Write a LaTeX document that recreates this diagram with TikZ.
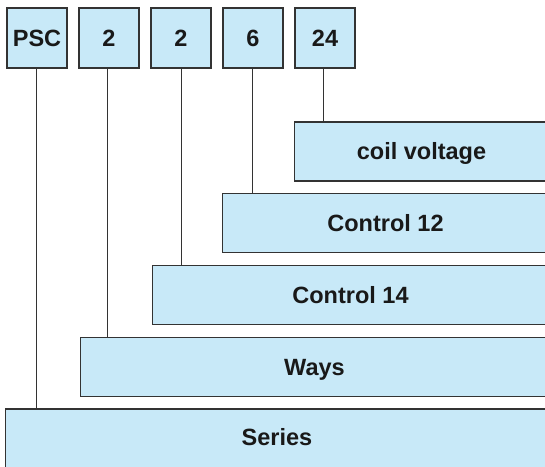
\documentclass[tikz,border=0pt]{standalone}
\usepackage{fontspec}
\setmainfont{Liberation Sans}
\definecolor{boxfill}{HTML}{C8E9F8}
\definecolor{boxline}{HTML}{333333}
\begin{document}
\begin{tikzpicture}[x=1pt,y=-1pt,
  codebox/.style={draw=boxline,line width=1.3pt,fill=boxfill,minimum width=60pt,minimum height=60pt,inner sep=0pt,text height=17pt,text depth=0pt,font=\fontsize{23.5}{28}\selectfont\bfseries,text=black!90},
  fieldbox/.style={draw=boxline,line width=1.3pt,fill=boxfill,minimum height=59pt,inner sep=0pt,text height=16.5pt,text depth=0pt,font=\fontsize{23.5}{28}\selectfont\bfseries,text=black!90},
  conn/.style={draw=boxline,line width=1pt}]
\useasboundingbox (0,0) rectangle (545,466);
\clip (0,0) rectangle (545,466);
% top code boxes
\node[codebox] (psc) at (37,38) {PSC};
\node[codebox] (w)   at (109,38) {2};
\node[codebox] (c14) at (181,38) {2};
\node[codebox] (c12) at (253,38) {6};
\node[codebox] (cv)  at (325,38) {24};
% field boxes (extend past the right and bottom edges)
\node[fieldbox,minimum width=254pt] (coil) at (421.5,151.5) {coil voltage};
\node[fieldbox,minimum width=326pt] (ctrltwelve) at (385.5,223) {Control 12};
\node[fieldbox,minimum width=396pt] (ctrlfourteen) at (350.5,295) {Control 14};
\node[fieldbox,minimum width=468pt] (ways) at (314.5,367) {Ways};
\node[fieldbox,minimum width=543pt,minimum height=64pt,text depth=7pt] (series) at (277,441) {Series};
% connectors
\draw[conn] ([xshift=-1pt]psc.south) -- ([xshift=-1pt]psc.south |- series.north);
\draw[conn] ([xshift=-1.5pt]w.south) -- ([xshift=-1.5pt]w.south |- ways.north);
\draw[conn] (c14.south) -- (c14.south |- ctrlfourteen.north);
\draw[conn] ([xshift=-1pt]c12.south) -- ([xshift=-1pt]c12.south |- ctrltwelve.north);
\draw[conn] ([xshift=-1.5pt]cv.south) -- ([xshift=-1.5pt]cv.south |- coil.north);
\end{tikzpicture}
\end{document}
